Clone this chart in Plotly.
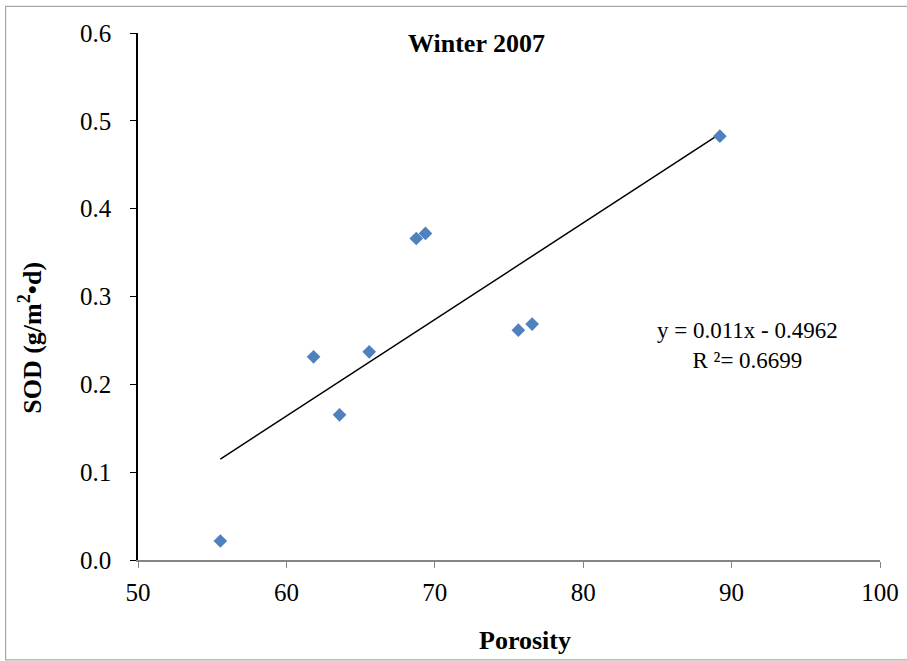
import plotly.graph_objects as go

porosity = [55.55, 61.83, 63.58, 65.58, 68.75, 69.37, 75.63, 76.56, 89.21]
sod = [0.0216, 0.2313, 0.1653, 0.237, 0.366, 0.3718, 0.2617, 0.2686, 0.4825]
slope = 0.011
intercept = -0.4962
r2_label = "0.6699"
x_ticks = [50, 60, 70, 80, 90, 100]
y_ticks = [0.0, 0.1, 0.2, 0.3, 0.4, 0.5, 0.6]

FONT = "Liberation Serif"

x_fit = [min(porosity), max(porosity)]
y_fit = [slope * v + intercept for v in x_fit]

fig = go.Figure()
fig.add_trace(go.Scatter(x=x_fit, y=y_fit, mode="lines",
                         line=dict(color="black", width=1.5),
                         showlegend=False, hoverinfo="skip"))
fig.add_trace(go.Scatter(x=porosity, y=sod, mode="markers",
                         marker=dict(symbol="diamond", size=10.5, color="#4F81BD"),
                         showlegend=False))

fig.update_layout(
    width=907, height=661,
    margin=dict(l=137.5, r=26.7, t=32.7, b=101, autoexpand=False),
    paper_bgcolor="white", plot_bgcolor="white",
    font=dict(family=FONT, color="black", size=25),
    xaxis=dict(range=[50, 100], tickvals=x_ticks, ticktext=[str(v) for v in x_ticks],
               showgrid=False, zeroline=False, showline=True, linecolor="#868686",
               linewidth=1.5, ticks="outside", tickcolor="#868686", ticklen=6,
               automargin=False, ticklabelstandoff=3,
               tickfont=dict(family=FONT, size=25, color="black")),
    yaxis=dict(range=[0, 0.6], tickvals=y_ticks, ticktext=[f"{v:.1f}" for v in y_ticks],
               showgrid=False, zeroline=False, showline=True, linecolor="black",
               linewidth=1.5, ticks="outside", tickcolor="black", ticklen=6,
               automargin=False, ticklabelstandoff=14,
               tickfont=dict(family=FONT, size=25, color="black")),
    shapes=[dict(type="rect", xref="paper", yref="paper",
                 x0=-0.1784, x1=1.05, y0=-0.1896, y1=1.0506,
                 line=dict(color="#A6A6A6", width=1.2), fillcolor="rgba(0,0,0,0)",
                 layer="below")],
    annotations=[
        dict(text="<b>Winter 2007</b>", xref="paper", yref="paper", x=0.4557, y=0.9805,
             xanchor="center", yanchor="middle", showarrow=False,
             font=dict(family=FONT, size=26, color="black")),
        dict(text="<b>Porosity</b>", xref="paper", yref="paper", x=0.522, y=-0.152,
             xanchor="center", yanchor="middle", showarrow=False,
             font=dict(family=FONT, size=26, color="black")),
        dict(text="<b>SOD (g/m<sup>2</sup>•d)</b>", xref="paper", yref="paper",
             x=-0.1447, y=0.421, xanchor="center", yanchor="middle", textangle=-90,
             showarrow=False, font=dict(family=FONT, size=26, color="black")),
        dict(text=f"y = {slope}x - {abs(intercept)}<br>R ²= {r2_label}",
             xref="paper", yref="paper", x=0.822, y=0.4077,
             xanchor="center", yanchor="middle", showarrow=False, align="center",
             font=dict(family=FONT, size=23, color="black")),
    ],
)

fig.write_html("out.html", config={"displayModeBar": False},
               post_script="document.body.style.margin='0';document.body.style.overflow='hidden';")
